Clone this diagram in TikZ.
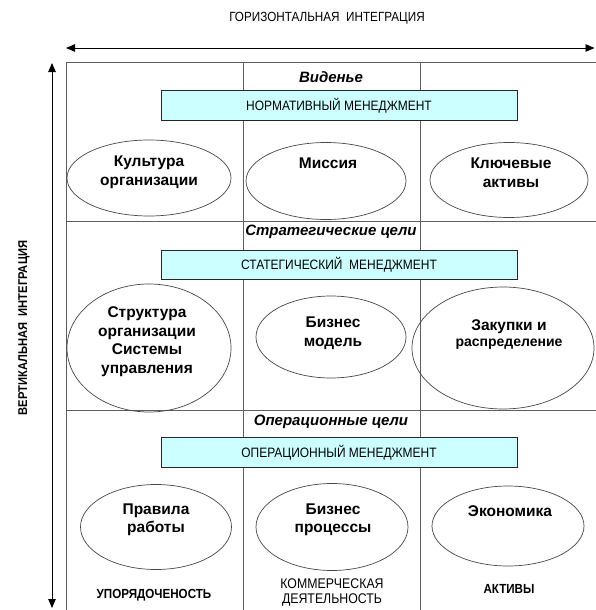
\documentclass[tikz,border=0pt]{standalone}
\usepackage{fontspec}
\setmainfont{Liberation Sans}
\newfontfamily\cond[FakeStretch=0.88]{Liberation Sans}
\usetikzlibrary{arrows.meta,shapes.geometric}
\definecolor{boxfill}{RGB}{204,255,255}
\definecolor{gridcol}{RGB}{95,95,95}
\definecolor{ellcol}{RGB}{70,70,70}
\tikzset{
  caps/.style={font=\cond\fontsize{13.3}{14}\selectfont, inner sep=0pt},
  lowcaps/.style={font=\cond\fontsize{14}{14.5}\selectfont, inner sep=0pt, align=center},
  boldcaps/.style={font=\cond\bfseries\fontsize{13.2}{14}\selectfont, inner sep=0pt},
  goal/.style={font=\fontsize{15}{17}\selectfont\bfseries\itshape, inner sep=0pt},
  mgmt/.style={draw=black!85, fill=boxfill, line width=0.7pt, minimum width=356pt, minimum height=29.5pt, font=\cond\fontsize{13.6}{14}\selectfont},
  oval/.style={draw=ellcol, line width=0.7pt, ellipse, inner sep=0pt},
  etext/.style={font=\fontsize{15.5}{18.5}\selectfont\bfseries, align=center, inner sep=0pt},
  gridline/.style={draw=gridcol, line width=0.8pt},
  dbl/.style={{Triangle[length=9pt,width=7.5pt]}-{Triangle[length=9pt,width=7.5pt]}, line width=0.8pt},
}
\begin{document}
\begin{tikzpicture}[x=1pt,y=-1pt]
\useasboundingbox (0,0) rectangle (595,610);
% titles and integration arrows
\node[caps] (htitle) at (327,18) {ГОРИЗОНТАЛЬНАЯ\ \ ИНТЕГРАЦИЯ};
\node[boldcaps, font=\cond\bfseries\fontsize{12.7}{14}\selectfont, rotate=90] (vtitle) at (24,328) {ВЕРТИКАЛЬНАЯ\ \ ИНТЕГРАЦИЯ};
\coordinate (hl) at (66,48);
\coordinate (hr) at (594.5,48);
\coordinate (vt) at (52,63);
\coordinate (vb) at (52,608);
\draw[dbl] (hl) -- (hr);
\draw[dbl] (vt) -- (vb);
% grid
\coordinate (tl) at (66,62);
\coordinate (tr) at (596,62);
\coordinate (bl) at (66,611);
\coordinate (c1t) at (243,62);
\coordinate (c1b) at (243,611);
\coordinate (c2t) at (420,62);
\coordinate (c2b) at (420,611);
\coordinate (r1l) at (66,221);
\coordinate (r1r) at (596,221);
\coordinate (r2l) at (66,410);
\coordinate (r2r) at (596,410);
\draw[gridline] (bl) -- (tl) -- (tr);
\draw[gridline] (c1t) -- (c1b);
\draw[gridline] (c2t) -- (c2b);
\draw[gridline] (r1l) -- (r1r);
\draw[gridline] (r2l) -- (r2r);
% goal labels
\node[goal] (g1) at (331,77) {Виденье};
\node[goal] (g2) at (331,232) {Стратегические цели};
\node[goal] (g3) at (331,422) {Операционные цели};
% management boxes
\node[mgmt] (m1) at (339,105.5) {НОРМАТИВНЫЙ МЕНЕДЖМЕНТ};
\node[mgmt] (m2) at (339,265) {СТАТЕГИЧЕСКИЙ\ \ МЕНЕДЖМЕНТ};
\node[mgmt] (m3) at (339,452.5) {ОПЕРАЦИОННЫЙ МЕНЕДЖМЕНТ};
% row 1 ellipses
\node[oval, minimum width=164pt, minimum height=76pt] (e1) at (149,178) {};
\node[oval, minimum width=160pt, minimum height=77pt] (e2) at (326,181) {};
\node[oval, minimum width=158pt, minimum height=75pt] (e3) at (509,180) {};
\node[etext] (t1) at (149,172.5) {Культура\\организации};
\node[etext] (t2) at (328,163) {Миссия};
\node[etext] (t3) at (511,172.5) {Ключевые\\активы};
% row 2 ellipses
\node[oval, minimum width=164pt, minimum height=128pt] (e4) at (149,348) {};
\node[oval, minimum width=150pt, minimum height=82pt] (e5) at (331,337) {};
\node[oval, minimum width=182pt, minimum height=122pt] (e6) at (503,348) {};
\node[etext] (t4) at (147,341.5) {Структура\\организации\\Системы\\управления};
\node[etext] (t5) at (333,333) {Бизнес\\модель};
\node[etext, font=\fontsize{14}{16}\selectfont\bfseries] (t6) at (509,335) {{\fontsize{15.5}{16}\selectfont Закупки и}\\распределение};
% row 3 ellipses
\node[oval, minimum width=151pt, minimum height=85pt] (e7) at (156,527) {};
\node[oval, minimum width=152pt, minimum height=87pt] (e8) at (332,527) {};
\node[oval, minimum width=152pt, minimum height=80pt] (e9) at (508,526) {};
\node[etext] (t7) at (156,520) {Правила\\работы};
\node[etext] (t8) at (333,520) {Бизнес\\процессы};
\node[etext] (t9) at (510,511) {Экономика};
% bottom labels
\node[boldcaps] (l1) at (154,595) {УПОРЯДОЧЕНОСТЬ};
\node[lowcaps] (l2) at (332,592.5) {КОММЕРЧЕСКАЯ\\ДЕЯТЕЛЬНОСТЬ};
\node[boldcaps] (l3) at (509,589) {АКТИВЫ};
\end{tikzpicture}
\end{document}
